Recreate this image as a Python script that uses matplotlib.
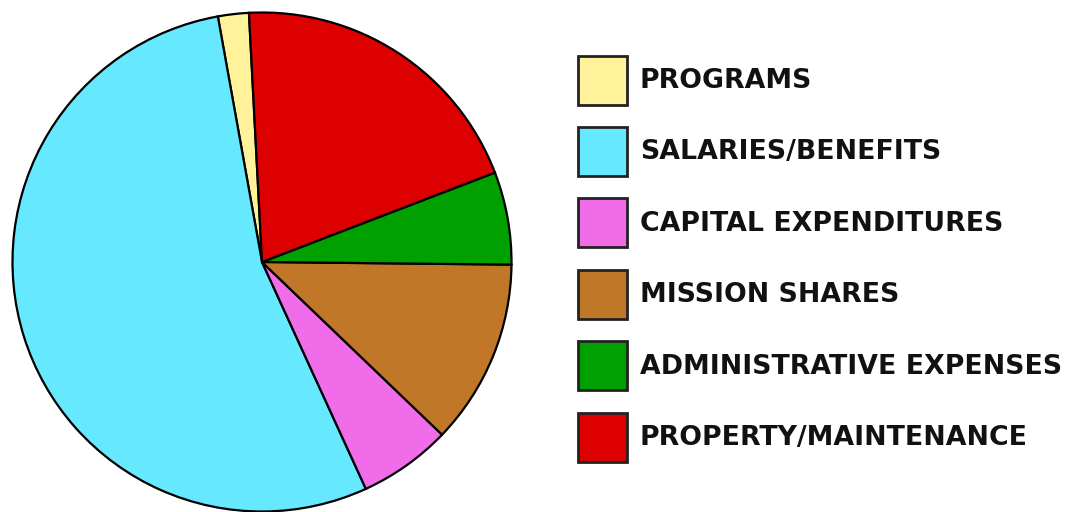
import matplotlib
matplotlib.use("Agg")
import matplotlib.pyplot as plt
from matplotlib.patches import Rectangle

# budget shares (percent), legend order = counterclockwise order of the slices
categories = [
    "PROGRAMS",
    "SALARIES/BENEFITS",
    "CAPITAL EXPENDITURES",
    "MISSION SHARES",
    "ADMINISTRATIVE EXPENSES",
    "PROPERTY/MAINTENANCE",
]
shares = [2, 54, 6, 12, 6, 20]
colors = ["#FFF29A", "#66E8FF", "#F06CE8", "#C07828", "#00A000", "#DD0000"]

W, H = 1065, 512
fig = plt.figure(figsize=(W / 100, H / 100), dpi=100)

# pie axes: circle centre (262, 262) px, radius 252 px
cx, cy, r = 262, 262, 252
ax = fig.add_axes([(cx - r) / W, (H - cy - r) / H, 2 * r / W, 2 * r / H])
ax.pie(
    shares,
    colors=colors,
    startangle=93,
    counterclock=True,
    radius=1,
    wedgeprops=dict(edgecolor="black", linewidth=1.6),
)
ax.set_xlim(-1.01, 1.01)
ax.set_ylim(-1.01, 1.01)
ax.set_aspect("equal")
ax.axis("off")

# legend drawn in pixel coordinates
lax = fig.add_axes([0, 0, 1, 1])
lax.set_xlim(0, W)
lax.set_ylim(H, 0)
lax.axis("off")
for i, (name, c) in enumerate(zip(categories, colors)):
    yc = 80 + i * 71.4
    lax.add_patch(Rectangle((578, yc - 24.5), 49, 49, facecolor=c,
                            edgecolor="#222222", linewidth=2))
    lax.text(640, yc + 1, name, fontsize=19.3, fontweight="bold",
             family="DejaVu Sans", color="#111111", va="center", ha="left")

fig.savefig("out.png", dpi=100)
